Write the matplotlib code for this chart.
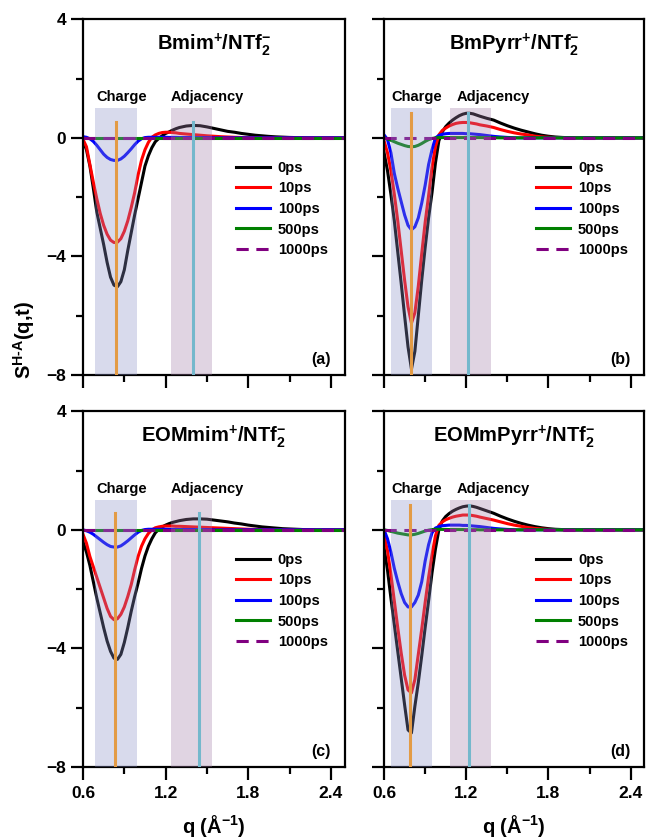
import numpy as np
import matplotlib.pyplot as plt

plt.rcParams['font.family'] = ['Liberation Sans', 'DejaVu Sans']
plt.rcParams['font.weight'] = 'bold'
plt.rcParams['mathtext.fontset'] = 'custom'
plt.rcParams['mathtext.rm'] = 'Liberation Sans:bold'
plt.rcParams['mathtext.it'] = 'Liberation Sans:bold'
plt.rcParams['mathtext.bf'] = 'Liberation Sans:bold'

# q grid: fine steps over the charge/adjacency region, coarser in the tail
q = np.concatenate([np.arange(0.6, 1.3001, 0.025), np.arange(1.35, 2.5001, 0.05)])

flat = [0.0] * 53

# (a) Bmim+/NTf2-
bmim_0 = [-0.1, -0.4, -0.95, -1.7, -2.5, -3.05, -3.6, -4.2, -4.7, -4.97, -5.02, -4.85, -4.45, -3.8, -3.2,
          -2.6, -2.05, -1.5, -0.95, -0.6, -0.33, -0.13, -0.02, 0.07, 0.15, 0.2, 0.26, 0.31, 0.35,
          0.4, 0.42, 0.41, 0.37, 0.32, 0.27, 0.22, 0.19, 0.15, 0.12, 0.09, 0.07, 0.05, 0.035, 0.025, 0.015,
          0.01, 0.005, 0, 0, 0, 0, 0, 0]
bmim_10 = [-0.05, -0.3, -0.9, -1.5, -2.05, -2.55, -2.95, -3.25, -3.45, -3.53, -3.52, -3.4, -3.15, -2.8, -2.35,
           -1.85, -1.25, -0.75, -0.4, -0.15, 0.02, 0.1, 0.15, 0.18, 0.19, 0.19, 0.18, 0.17, 0.15,
           0.13, 0.11, 0.09, 0.07, 0.055, 0.04, 0.03, 0.02, 0.012, 0.007, 0.003, 0, 0, 0, 0, 0,
           0, 0, 0, 0, 0, 0, 0, 0]
bmim_100 = [0.04, 0.02, -0.03, -0.12, -0.25, -0.4, -0.55, -0.66, -0.73, -0.76, -0.76, -0.71, -0.62, -0.5, -0.37,
            -0.23, -0.11, -0.03, 0.01, 0.02, 0.02, 0.02, 0.02, 0.02, 0.02, 0.015, 0.015, 0.015, 0.01,
            0.01, 0.01, 0.005, 0.005, 0, 0, 0, 0, 0, 0, 0, 0, 0, 0, 0, 0,
            0, 0, 0, 0, 0, 0, 0, 0]

# (b) BmPyrr+/NTf2-
bmpyrr_0 = [-0.5, -1.1, -1.9, -2.8, -3.85, -4.9, -6.0, -7.05, -7.8, -7.2, -6.0, -4.8, -3.7, -2.7, -1.85,
            -0.85, -0.1, 0.2, 0.38, 0.5, 0.6, 0.68, 0.75, 0.8, 0.83, 0.83, 0.81, 0.77, 0.73,
            0.66, 0.6, 0.5, 0.41, 0.33, 0.26, 0.2, 0.14, 0.09, 0.055, 0.03, 0.015, 0.005, 0, 0, 0,
            0, 0, 0, 0, 0, 0, 0, 0]
bmpyrr_10 = [-0.1, -0.5, -1.1, -1.9, -2.8, -3.8, -4.8, -5.7, -6.25, -5.9, -5.0, -3.9, -2.85, -1.95, -1.0,
             -0.3, 0.1, 0.25, 0.33, 0.4, 0.45, 0.49, 0.51, 0.52, 0.52, 0.51, 0.49, 0.47, 0.44,
             0.4, 0.35, 0.28, 0.22, 0.17, 0.13, 0.1, 0.06, 0.035, 0.02, 0.01, 0.005, 0, 0, 0, 0,
             0, 0, 0, 0, 0, 0, 0, 0]
bmpyrr_100 = [0.1, -0.05, -0.5, -1.2, -1.7, -2.15, -2.6, -2.95, -3.1, -3.0, -2.7, -2.2, -1.6, -0.9, -0.4,
              0.0, 0.08, 0.12, 0.14, 0.15, 0.15, 0.15, 0.15, 0.15, 0.14, 0.14, 0.13, 0.12, 0.11,
              0.08, 0.05, 0.03, 0.015, 0.005, 0, 0, 0, 0, 0, 0, 0, 0, 0, 0, 0,
              0, 0, 0, 0, 0, 0, 0, 0]
bmpyrr_500 = [0.0, -0.03, -0.08, -0.13, -0.18, -0.22, -0.26, -0.29, -0.3, -0.29, -0.25, -0.19, -0.12, -0.06, -0.02,
              0.0, 0.01, 0.01, 0.01, 0.01, 0.01, 0.01, 0.01, 0.01, 0.01, 0.01, 0.01, 0.01, 0.01,
              0.005, 0.005, 0, 0, 0, 0, 0, 0, 0, 0, 0, 0, 0, 0, 0, 0,
              0, 0, 0, 0, 0, 0, 0, 0]

# (c) EOMmim+/NTf2-
eommim_0 = [-0.4, -0.75, -1.2, -1.75, -2.3, -2.8, -3.3, -3.75, -4.1, -4.33, -4.37, -4.2, -3.8, -3.3, -2.75,
            -2.25, -1.8, -1.3, -0.88, -0.55, -0.3, -0.1, 0.02, 0.1, 0.16, 0.21, 0.25, 0.28, 0.31,
            0.35, 0.37, 0.37, 0.36, 0.33, 0.3, 0.27, 0.23, 0.2, 0.16, 0.13, 0.1, 0.08, 0.06, 0.04, 0.03,
            0.02, 0.01, 0.005, 0, 0, 0, 0, 0]
eommim_10 = [-0.15, -0.45, -0.9, -1.25, -1.6, -1.95, -2.3, -2.65, -2.92, -3.03, -3.0, -2.85, -2.6, -2.25, -1.85,
             -1.35, -0.9, -0.55, -0.3, -0.12, 0.0, 0.07, 0.1, 0.12, 0.13, 0.13, 0.13, 0.12, 0.12,
             0.11, 0.1, 0.09, 0.08, 0.07, 0.06, 0.05, 0.04, 0.03, 0.02, 0.015, 0.01, 0.005, 0, 0, 0,
             0, 0, 0, 0, 0, 0, 0, 0]
eommim_100 = [0.0, -0.03, -0.08, -0.15, -0.24, -0.33, -0.42, -0.5, -0.56, -0.58, -0.58, -0.54, -0.46, -0.37, -0.27,
              -0.17, -0.08, -0.02, 0.01, 0.02, 0.02, 0.02, 0.02, 0.02, 0.02, 0.015, 0.015, 0.015, 0.01,
              0.01, 0.01, 0.005, 0.005, 0, 0, 0, 0, 0, 0, 0, 0, 0, 0, 0, 0,
              0, 0, 0, 0, 0, 0, 0, 0]

# (d) EOMmPyrr+/NTf2-
eompyrr_0 = [-0.6, -1.35, -2.3, -3.2, -4.1, -5.0, -5.9, -6.75, -6.85, -5.95, -5.15, -4.25, -3.3, -2.4, -1.45,
             -0.65, 0.0, 0.3, 0.45, 0.55, 0.63, 0.69, 0.74, 0.78, 0.8, 0.81, 0.79, 0.76, 0.72,
             0.64, 0.56, 0.46, 0.37, 0.29, 0.22, 0.16, 0.11, 0.07, 0.04, 0.02, 0.01, 0, 0, 0, 0,
             0, 0, 0, 0, 0, 0, 0, 0]
eompyrr_10 = [-0.2, -0.7, -1.5, -2.4, -3.3, -4.15, -4.9, -5.4, -5.5, -5.05, -4.2, -3.35, -2.45, -1.6, -0.85,
              -0.2, 0.15, 0.27, 0.34, 0.39, 0.43, 0.46, 0.48, 0.5, 0.5, 0.5, 0.48, 0.46, 0.43,
              0.38, 0.33, 0.27, 0.21, 0.16, 0.12, 0.08, 0.05, 0.03, 0.015, 0.007, 0, 0, 0, 0, 0,
              0, 0, 0, 0, 0, 0, 0, 0]
eompyrr_100 = [0.0, -0.3, -0.75, -1.3, -1.75, -2.15, -2.45, -2.6, -2.6, -2.45, -2.2, -1.75, -1.05, -0.5, -0.1,
               0.06, 0.11, 0.14, 0.15, 0.16, 0.16, 0.16, 0.16, 0.15, 0.15, 0.14, 0.13, 0.12, 0.11,
               0.08, 0.05, 0.03, 0.015, 0.005, 0, 0, 0, 0, 0, 0, 0, 0, 0, 0, 0,
               0, 0, 0, 0, 0, 0, 0, 0]
eompyrr_500 = [0.0, -0.02, -0.05, -0.08, -0.11, -0.13, -0.15, -0.17, -0.17, -0.15, -0.12, -0.08, -0.04, -0.01, 0.01,
               0.02, 0.02, 0.015, 0.015, 0.01, 0.01, 0.01, 0.01, 0.01, 0.005, 0.005, 0.005, 0.005, 0.0,
               0, 0, 0, 0, 0, 0, 0, 0, 0, 0, 0, 0, 0, 0, 0, 0,
               0, 0, 0, 0, 0, 0, 0, 0]

times = ['0ps', '10ps', '100ps', '500ps', '1000ps']
colors = ['black', '#ff0000', '#0000ff', '#008000', '#800080']

panels = [
    (r'Bmim$^{+}$/NTf$_{2}^{-}$', [bmim_0, bmim_10, bmim_100, flat, flat]),
    (r'BmPyrr$^{+}$/NTf$_{2}^{-}$', [bmpyrr_0, bmpyrr_10, bmpyrr_100, bmpyrr_500, flat]),
    (r'EOMmim$^{+}$/NTf$_{2}^{-}$', [eommim_0, eommim_10, eommim_100, flat, flat]),
    (r'EOMmPyrr$^{+}$/NTf$_{2}^{-}$', [eompyrr_0, eompyrr_10, eompyrr_100, eompyrr_500, flat]),
]
letters = ['(a)', '(b)', '(c)', '(d)']

# shaded q windows, marker lines and label spots
charge_band = [(0.69, 0.99), (0.65, 0.95), (0.69, 0.99), (0.65, 0.95)]
adj_band = [(1.24, 1.54), (1.08, 1.38), (1.24, 1.54), (1.08, 1.38)]
charge_peak = [0.84, 0.80, 0.83, 0.79]
adj_peak = [1.40, 1.21, 1.44, 1.22]
line_top = [0.53, 0.84, 0.56, 0.84]
charge_text = [0.88, 0.84, 0.88, 0.84]
adj_text = [1.50, 1.40, 1.50, 1.40]

fig = plt.figure(figsize=(6.46, 8.39), dpi=100)
boxes = [
    [0.1285, 0.553, 0.405, 0.424],
    [0.5945, 0.553, 0.403, 0.424],
    [0.1285, 0.0858, 0.405, 0.424],
    [0.5945, 0.0858, 0.403, 0.424],
]

for i, (title, series) in enumerate(panels):
    ax = fig.add_axes(boxes[i])
    for ys, c, lab in zip(series, colors, times):
        if lab == '1000ps':
            ax.plot(q, ys, color=c, lw=2.2, ls=(0, (4, 2.5)), label=lab, zorder=2.5)
        else:
            ax.plot(q, ys, color=c, lw=2.2, label=lab, zorder=2)

    ax.fill_between(charge_band[i], -8, 1.0, color='#8a90c6', alpha=0.33, lw=0, zorder=3)
    ax.fill_between(adj_band[i], -8, 1.0, color='#a27ea8', alpha=0.33, lw=0, zorder=3)
    ax.plot([charge_peak[i], charge_peak[i]], [-8, line_top[i]], color='#e39b45', lw=2.2, zorder=4)
    ax.plot([adj_peak[i], adj_peak[i]], [-8, line_top[i]], color='#74b8cc', lw=2.2, zorder=4)

    ax.text(charge_text[i], 1.38, 'Charge', ha='center', va='center', fontsize=10.5, fontweight='bold')
    ax.text(adj_text[i], 1.38, 'Adjacency', ha='center', va='center', fontsize=10.5, fontweight='bold')
    ax.text(1.55, 2.98, title, ha='center', va='baseline', fontsize=14.5, fontweight='bold')
    ax.text(0.945, 0.045, letters[i], transform=ax.transAxes, ha='right', va='center',
            fontsize=11.5, fontweight='bold')

    ax.set_xlim(0.6, 2.5)
    ax.set_ylim(-8, 4)
    ax.set_xticks([0.6, 1.2, 1.8, 2.4])
    ax.set_xticks([0.9, 1.5, 2.1], minor=True)
    ax.set_yticks([-8, -4, 0, 4])
    ax.set_yticks([-6, -2, 2], minor=True)
    ax.tick_params(which='major', direction='out', length=9, width=1.6, labelsize=12.5, pad=3)
    ax.tick_params(axis='x', which='major', pad=5)
    ax.tick_params(which='minor', direction='out', length=5, width=1.6)
    for sp in ax.spines.values():
        sp.set_linewidth(1.6)
    if i % 2 == 1:
        ax.set_yticklabels([])
    if i < 2:
        ax.set_xticklabels([])
    else:
        ax.set_xlabel(r'q (Å$^{-1}$)', fontsize=14.5, fontweight='bold', labelpad=8)

    leg = ax.legend(loc='upper left', bbox_to_anchor=(0.585, 0.602), frameon=False, fontsize=10.5,
                    handlelength=2.3, handletextpad=0.55, labelspacing=0.45, borderpad=0,
                    borderaxespad=0)
    for t in leg.get_texts():
        t.set_fontweight('bold')

fig.text(0.037, 0.595, r'S$^{\text{H-A}}$(q,t)', rotation=90, ha='center', va='center',
         fontsize=14.5, fontweight='bold')

fig.savefig('out.png', dpi=100)
